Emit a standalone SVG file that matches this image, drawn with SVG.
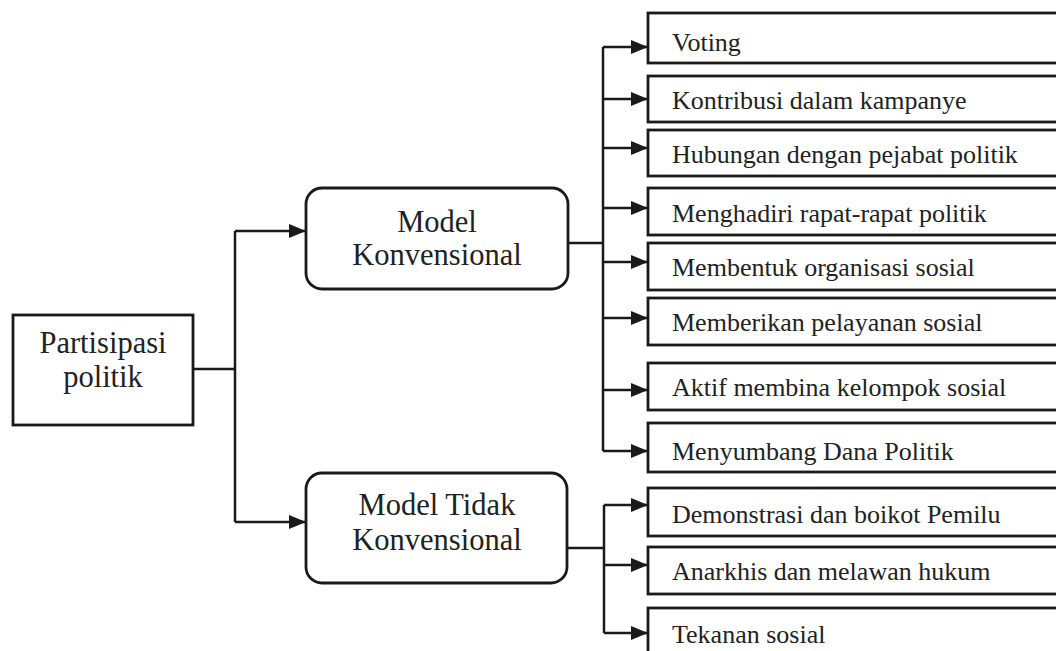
<svg xmlns="http://www.w3.org/2000/svg" width="1056" height="651" viewBox="0 0 1056 651">
<style>
.box{fill:#fff;stroke:#1a1a1a;stroke-width:2.8}
.ln{fill:none;stroke:#1a1a1a;stroke-width:2.5}
.big{font-family:"Liberation Serif","Times New Roman",serif;font-size:30.5px;fill:#222;text-anchor:middle}
.item{font-family:"Liberation Serif","Times New Roman",serif;font-size:26px;fill:#222}
</style>
<defs>
<marker id="ah" markerUnits="userSpaceOnUse" markerWidth="18" markerHeight="16" refX="17" refY="8" orient="auto">
<path d="M0,1 L17,8 L0,15 Z" fill="#1a1a1a"/>
</marker>
</defs>
<rect width="1056" height="651" fill="#fff"/>
<g id="connectors">
<path class="ln" d="M193,369 H235"/>
<path class="ln" d="M235,231 V522"/>
<path class="ln" d="M235,231 H306" marker-end="url(#ah)"/>
<path class="ln" d="M235,522 H306" marker-end="url(#ah)"/>
<path class="ln" d="M568,243 H603"/>
<path class="ln" d="M603,47 V451"/>
<path class="ln" d="M603,47 H648" marker-end="url(#ah)"/>
<path class="ln" d="M603,99 H648" marker-end="url(#ah)"/>
<path class="ln" d="M603,148 H648" marker-end="url(#ah)"/>
<path class="ln" d="M603,208 H648" marker-end="url(#ah)"/>
<path class="ln" d="M603,262 H648" marker-end="url(#ah)"/>
<path class="ln" d="M603,318 H648" marker-end="url(#ah)"/>
<path class="ln" d="M603,390 H648" marker-end="url(#ah)"/>
<path class="ln" d="M603,451 H648" marker-end="url(#ah)"/>
<path class="ln" d="M567,548 H604"/>
<path class="ln" d="M604,505 V633"/>
<path class="ln" d="M604,505 H648" marker-end="url(#ah)"/>
<path class="ln" d="M604,565 H648" marker-end="url(#ah)"/>
<path class="ln" d="M604,633 H648" marker-end="url(#ah)"/>
</g>
<g id="partisipasi">
<rect class="box" x="13" y="315" width="180" height="110"/>
<text class="big" x="103" y="353">Partisipasi</text>
<text class="big" x="103" y="387">politik</text>
</g>
<g id="model-konvensional">
<rect class="box" x="306" y="188" width="262" height="101" rx="16"/>
<text class="big" x="437" y="232">Model</text>
<text class="big" x="437" y="265">Konvensional</text>
</g>
<g id="model-tidak">
<rect class="box" x="306" y="473" width="261" height="110" rx="16"/>
<text class="big" x="437" y="515">Model Tidak</text>
<text class="big" x="437" y="550">Konvensional</text>
</g>
<g id="voting"><rect class="box" x="648" y="13" width="420" height="50"/><text class="item" x="672" y="51">Voting</text></g>
<g id="kontribusi"><rect class="box" x="648" y="76" width="420" height="46"/><text class="item" x="672" y="109">Kontribusi dalam kampanye</text></g>
<g id="hubungan"><rect class="box" x="648" y="130" width="420" height="46"/><text class="item" x="672" y="163">Hubungan dengan pejabat politik</text></g>
<g id="menghadiri"><rect class="box" x="648" y="188" width="420" height="47"/><text class="item" x="672" y="222">Menghadiri rapat-rapat politik</text></g>
<g id="membentuk"><rect class="box" x="648" y="243" width="420" height="47"/><text class="item" x="672" y="276">Membentuk organisasi sosial</text></g>
<g id="memberikan"><rect class="box" x="648" y="298" width="420" height="47"/><text class="item" x="672" y="331">Memberikan pelayanan sosial</text></g>
<g id="aktif"><rect class="box" x="648" y="363" width="420" height="47"/><text class="item" x="672" y="396">Aktif membina kelompok sosial</text></g>
<g id="menyumbang"><rect class="box" x="648" y="423" width="420" height="49"/><text class="item" x="672" y="460">Menyumbang Dana Politik</text></g>
<g id="demonstrasi"><rect class="box" x="648" y="488" width="420" height="48"/><text class="item" x="672" y="523">Demonstrasi dan boikot Pemilu</text></g>
<g id="anarkhis"><rect class="box" x="648" y="547" width="420" height="47"/><text class="item" x="672" y="580">Anarkhis dan melawan hukum</text></g>
<g id="tekanan"><rect class="box" x="648" y="608" width="420" height="60"/><text class="item" x="672" y="643">Tekanan sosial</text></g>
</svg>
